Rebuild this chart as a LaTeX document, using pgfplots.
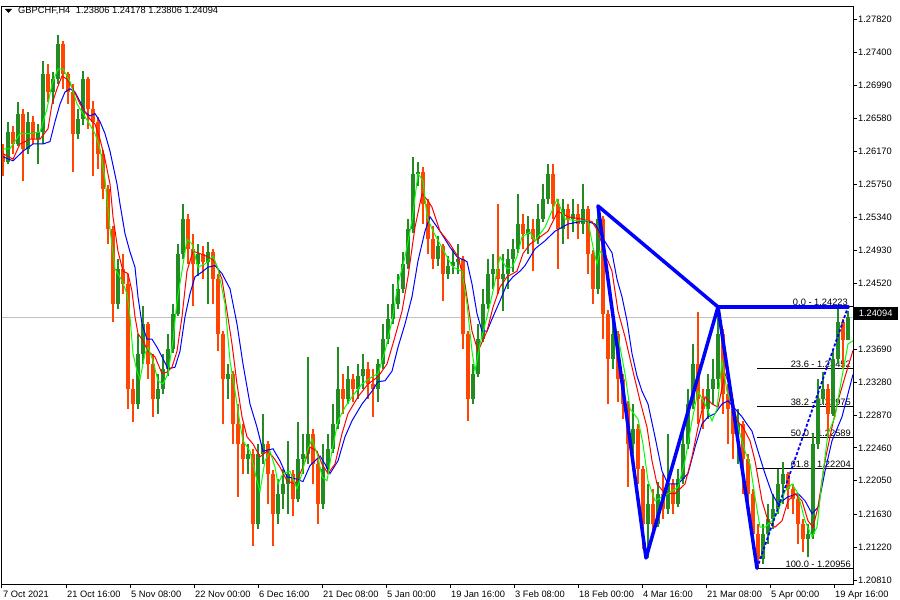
\documentclass[border=0pt]{standalone}
\usepackage{pgfplots}
\pgfplotsset{compat=1.18}
\usepackage{pgfplotstable}
\usepackage{fontspec}
\setmainfont{Liberation Sans}
\newcommand\lab{\fontsize{9.3}{11}\selectfont}

\definecolor{bull}{RGB}{34,139,34}
\definecolor{bear}{RGB}{255,69,0}
\definecolor{malime}{RGB}{0,255,0}
\definecolor{mared}{RGB}{255,0,0}
\definecolor{mablue}{RGB}{0,0,255}
\definecolor{bidline}{RGB}{192,192,192}

% GBPCHF H4 candles (x = position along the time axis)
\pgfplotstableread{
x o h l c
3 1.2614 1.2626 1.2586 1.2604
8 1.2604 1.2654 1.2601 1.2641
13 1.2641 1.2649 1.2614 1.2626
18 1.2626 1.2679 1.2624 1.2664
23 1.2664 1.2670 1.2580 1.2620
28 1.2620 1.2666 1.2614 1.2654
33 1.2654 1.2661 1.2626 1.2632
38 1.2632 1.2651 1.2601 1.2641
43 1.2641 1.2730 1.2626 1.2714
48 1.2714 1.2726 1.2679 1.2691
53 1.2691 1.2716 1.2676 1.2707
58 1.2707 1.2762 1.2701 1.2751
63 1.2751 1.2755 1.2695 1.2714
68 1.2714 1.2716 1.2676 1.2691
73 1.2691 1.2701 1.2591 1.2639
78 1.2639 1.2670 1.2632 1.2657
83 1.2657 1.2717 1.2650 1.2707
88 1.2707 1.2710 1.2645 1.2670
93 1.2670 1.2680 1.2586 1.2654
98 1.2654 1.2660 1.2595 1.2614
103 1.2614 1.2618 1.2557 1.2570
108 1.2570 1.2575 1.2501 1.2520
113 1.2520 1.2524 1.2404 1.2426
118 1.2426 1.2482 1.2420 1.2470
123 1.2470 1.2489 1.2439 1.2451
128 1.2451 1.2464 1.2295 1.2320
133 1.2320 1.2332 1.2279 1.2301
138 1.2301 1.2389 1.2295 1.2364
143 1.2364 1.2424 1.2351 1.2401
148 1.2401 1.2404 1.2332 1.2351
153 1.2351 1.2364 1.2285 1.2307
158 1.2307 1.2339 1.2289 1.2320
163 1.2320 1.2364 1.2314 1.2345
168 1.2345 1.2389 1.2336 1.2370
173 1.2370 1.2426 1.2365 1.2414
178 1.2414 1.2501 1.2411 1.2489
183 1.2489 1.2551 1.2482 1.2532
188 1.2532 1.2539 1.2476 1.2495
193 1.2495 1.2514 1.2424 1.2476
198 1.2476 1.2501 1.2461 1.2489
203 1.2489 1.2499 1.2457 1.2479
208 1.2479 1.2504 1.2426 1.2491
213 1.2491 1.2495 1.2426 1.2457
218 1.2457 1.2464 1.2367 1.2389
223 1.2389 1.2392 1.2276 1.2332
228 1.2332 1.2351 1.2307 1.2339
233 1.2339 1.2342 1.2251 1.2276
238 1.2276 1.2301 1.2185 1.2251
243 1.2251 1.2276 1.2214 1.2232
248 1.2232 1.2251 1.2214 1.2239
253 1.2239 1.2245 1.2124 1.2151
258 1.2151 1.2251 1.2145 1.2239
263 1.2239 1.2289 1.2226 1.2251
268 1.2251 1.2255 1.2176 1.2214
273 1.2214 1.2218 1.2124 1.2164
278 1.2164 1.2207 1.2151 1.2189
283 1.2189 1.2220 1.2170 1.2201
288 1.2201 1.2255 1.2164 1.2214
293 1.2214 1.2218 1.2161 1.2182
298 1.2182 1.2279 1.2178 1.2232
303 1.2232 1.2264 1.2214 1.2239
308 1.2239 1.2360 1.2226 1.2264
313 1.2264 1.2270 1.2201 1.2226
318 1.2226 1.2232 1.2151 1.2176
323 1.2176 1.2251 1.2170 1.2220
328 1.2220 1.2264 1.2214 1.2245
333 1.2245 1.2301 1.2240 1.2276
338 1.2276 1.2372 1.2270 1.2320
343 1.2320 1.2339 1.2289 1.2307
348 1.2307 1.2349 1.2301 1.2332
353 1.2332 1.2339 1.2304 1.2320
358 1.2320 1.2351 1.2307 1.2336
363 1.2336 1.2364 1.2320 1.2345
368 1.2345 1.2354 1.2307 1.2326
373 1.2326 1.2345 1.2285 1.2320
378 1.2320 1.2357 1.2304 1.2351
383 1.2351 1.2401 1.2345 1.2382
388 1.2382 1.2426 1.2376 1.2407
393 1.2407 1.2451 1.2401 1.2426
398 1.2426 1.2464 1.2420 1.2445
403 1.2445 1.2491 1.2440 1.2476
408 1.2476 1.2532 1.2470 1.2520
413 1.2520 1.2610 1.2515 1.2589
418 1.2589 1.2604 1.2574 1.2591
423 1.2591 1.2597 1.2526 1.2551
428 1.2551 1.2557 1.2489 1.2507
433 1.2507 1.2524 1.2470 1.2482
438 1.2482 1.2511 1.2474 1.2499
443 1.2499 1.2501 1.2430 1.2464
448 1.2464 1.2486 1.2457 1.2474
453 1.2474 1.2495 1.2464 1.2479
458 1.2479 1.2501 1.2464 1.2482
463 1.2482 1.2486 1.2370 1.2389
468 1.2389 1.2392 1.2280 1.2307
473 1.2307 1.2351 1.2301 1.2339
478 1.2339 1.2401 1.2335 1.2382
483 1.2382 1.2445 1.2378 1.2426
488 1.2426 1.2482 1.2420 1.2464
493 1.2464 1.2489 1.2445 1.2470
498 1.2470 1.2551 1.2439 1.2457
503 1.2457 1.2489 1.2417 1.2464
508 1.2464 1.2495 1.2445 1.2482
513 1.2482 1.2507 1.2466 1.2495
518 1.2495 1.2564 1.2490 1.2526
523 1.2526 1.2539 1.2495 1.2514
528 1.2514 1.2536 1.2489 1.2520
533 1.2520 1.2532 1.2467 1.2507
538 1.2507 1.2551 1.2501 1.2532
543 1.2532 1.2576 1.2528 1.2557
548 1.2557 1.2601 1.2551 1.2589
553 1.2589 1.2601 1.2532 1.2551
558 1.2551 1.2557 1.2470 1.2520
563 1.2520 1.2557 1.2501 1.2545
568 1.2545 1.2551 1.2507 1.2532
573 1.2532 1.2557 1.2516 1.2539
578 1.2539 1.2551 1.2507 1.2526
583 1.2526 1.2576 1.2514 1.2545
588 1.2545 1.2549 1.2464 1.2489
593 1.2489 1.2493 1.2426 1.2445
598 1.2445 1.25485 1.2439 1.2532
603 1.2532 1.2536 1.2382 1.2414
608 1.2414 1.2418 1.2301 1.2357
613 1.2357 1.2414 1.2345 1.2389
618 1.2389 1.2392 1.2304 1.2332
623 1.2332 1.2339 1.2282 1.2301
628 1.2301 1.2305 1.2197 1.2251
633 1.2251 1.2301 1.2239 1.2270
638 1.2270 1.2276 1.2201 1.2220
643 1.2220 1.2224 1.2120 1.2151
648 1.2151 1.2201 1.21085 1.2176
653 1.2176 1.2195 1.2139 1.2151
658 1.2151 1.2204 1.2147 1.2189
663 1.2189 1.2214 1.2157 1.2170
668 1.2170 1.2264 1.2164 1.2201
673 1.2201 1.2207 1.2164 1.2176
678 1.2176 1.2220 1.2172 1.2207
683 1.2207 1.2270 1.2201 1.2251
688 1.2251 1.2320 1.2245 1.2301
693 1.2301 1.2376 1.2295 1.2351
698 1.2351 1.2416 1.2276 1.2307
703 1.2307 1.2320 1.2270 1.2295
708 1.2295 1.2339 1.2282 1.2320
713 1.2320 1.2357 1.2301 1.2332
718 1.2332 1.24223 1.2320 1.2389
723 1.2389 1.2395 1.2289 1.2314
728 1.2314 1.2326 1.2251 1.2295
733 1.2295 1.2307 1.2232 1.2264
738 1.2264 1.2295 1.2226 1.2276
743 1.2276 1.2280 1.2189 1.2232
748 1.2232 1.2239 1.2164 1.2189
753 1.2189 1.2195 1.2120 1.2139
758 1.2139 1.2151 1.20956 1.2107
763 1.2107 1.2151 1.2101 1.2139
768 1.2139 1.2176 1.2126 1.2157
773 1.2157 1.2189 1.2145 1.2170
778 1.2170 1.2220 1.2164 1.2201
783 1.2201 1.2229 1.2176 1.2214
788 1.2214 1.2216 1.2170 1.2195
793 1.2195 1.2201 1.2164 1.2182
798 1.2182 1.2189 1.2126 1.2151
803 1.2151 1.2157 1.2116 1.2132
808 1.2132 1.2151 1.2110 1.2139
813 1.2139 1.2264 1.2132 1.2251
818 1.2251 1.2332 1.2245 1.2307
823 1.2307 1.2341 1.2301 1.2320
828 1.2320 1.2326 1.2260 1.2289
833 1.2289 1.2370 1.2286 1.2357
838 1.2357 1.24223 1.2351 1.2404
843 1.2404 1.2407 1.2345 1.23806
848 1.23806 1.24178 1.23806 1.24094
}\candles

\pgfplotsset{
  up/.style={restrict expr to domain={\thisrow{c}-\thisrow{o}}{0:1}},
  down/.style={restrict expr to domain={\thisrow{c}-\thisrow{o}}{-1:0}},
  candle/.style 2 args={draw=none, mark=none, forget plot,
    error bars/.cd, y dir=plus, y explicit, error mark=none,
    error bar style={draw=#1, line width=#2, line cap=butt}},
}

\begin{document}
\begin{tikzpicture}[x=1pt,y=1pt]
\useasboundingbox (0,0) rectangle (900,600);
\begin{axis}[
  at={(2,20)}, anchor=south west,
  scale only axis, width=851pt, height=577pt,
  xmin=2, xmax=853, ymin=1.2076, ymax=1.279725,
  axis line style={line width=1pt, black},
  xtick={2,66,...,834},
  xticklabels={7 Oct 2021, 21 Oct 16:00, 5 Nov 08:00, 22 Nov 00:00, 6 Dec 16:00,
    21 Dec 08:00, 5 Jan 00:00, 19 Jan 16:00, 3 Feb 08:00, 18 Feb 00:00,
    4 Mar 16:00, 21 Mar 08:00, 5 Apr 00:00, 19 Apr 16:00},
  ytick={1.27820,1.27400,1.26990,1.26580,1.26170,1.25750,1.25340,1.24930,1.24520,
    1.23690,1.23280,1.22870,1.22460,1.22050,1.21630,1.21220,1.20810},
  yticklabels={1.27820,1.27400,1.26990,1.26580,1.26170,1.25750,1.25340,1.24930,1.24520,
    1.23690,1.23280,1.22870,1.22460,1.22050,1.21630,1.21220,1.20810},
  xtick pos=left, ytick pos=right,
  tick align=outside, major tick length=4pt,
  tick style={black, line width=1pt},
  xticklabel style={anchor=north west, inner sep=0pt, xshift=1pt, yshift=-3pt, font=\lab},
  yticklabel style={anchor=west, inner sep=0pt, xshift=1pt, font=\lab},
]
% last bid line
\addplot[bidline, line width=1pt, forget plot] coordinates {(2,1.24094) (853,1.24094)};

% Fibonacci retracement levels
\addplot[black, line width=1pt, forget plot] coordinates {(757,1.24223) (853,1.24223)};
\addplot[black, line width=1pt, forget plot] coordinates {(757,1.23452) (853,1.23452)};
\addplot[black, line width=1pt, forget plot] coordinates {(757,1.22975) (853,1.22975)};
\addplot[black, line width=1pt, forget plot] coordinates {(757,1.22589) (853,1.22589)};
\addplot[black, line width=1pt, forget plot] coordinates {(757,1.22204) (853,1.22204)};
\addplot[black, line width=1pt, forget plot] coordinates {(757,1.20956) (853,1.20956)};
\node[anchor=south east, inner sep=1pt, font=\lab] at (axis cs:849,1.24223) {0.0 - 1.24223};
\node[anchor=south east, inner sep=1pt, font=\lab] at (axis cs:852,1.23452) {23.6 - 1.23452};
\node[anchor=south east, inner sep=1pt, font=\lab] at (axis cs:852,1.22975) {38.2 - 1.22975};
\node[anchor=south east, inner sep=1pt, font=\lab] at (axis cs:852,1.22589) {50.0 - 1.22589};
\node[anchor=south east, inner sep=1pt, font=\lab] at (axis cs:852,1.22204) {61.8 - 1.22204};
\node[anchor=south east, inner sep=1pt, font=\lab] at (axis cs:852,1.20956) {100.0 - 1.20956};

% candles: wicks then bodies
\addplot[up, candle={bull}{1.2pt}] table[x=x, y=l, y error plus expr={\thisrow{h}-\thisrow{l}}] {\candles};
\addplot[down, candle={bear}{1.2pt}] table[x=x, y=l, y error plus expr={\thisrow{h}-\thisrow{l}}] {\candles};
\addplot[up, candle={bull}{3.4pt}] table[x=x, y=o, y error plus expr={\thisrow{c}-\thisrow{o}}] {\candles};
\addplot[down, candle={bear}{3.4pt}] table[x=x, y=c, y error plus expr={\thisrow{o}-\thisrow{c}}] {\candles};

% moving averages
\addplot[mablue, line width=1pt] coordinates {
(3,1.2610) (13,1.2605) (23,1.2617) (33,1.2626) (43,1.2626) (50,1.2629) (55,1.2654) (60,1.2676)
(65,1.2691) (70,1.2695) (75,1.2691) (80,1.2679) (85,1.2666) (90,1.2661) (95,1.2664) (100,1.2654)
(105,1.2639) (110,1.2617) (117,1.2576) (120,1.2551) (125,1.2514) (130,1.2491) (135,1.2472)
(138,1.2435) (142,1.2401) (147,1.2382) (152,1.2382) (157,1.2372) (162,1.2360) (168,1.2345)
(175,1.2347) (180,1.2367) (185,1.2410) (190,1.2439) (195,1.2460) (202,1.2466) (208,1.2472)
(215,1.2474) (222,1.2464) (230,1.2445) (237,1.2401) (243,1.2351) (250,1.2301) (257,1.2272)
(263,1.2242) (273,1.2245) (280,1.2230) (287,1.2210) (297,1.2207) (303,1.2204) (310,1.2224)
(320,1.2236) (325,1.2226) (330,1.2214) (338,1.2230) (345,1.2260) (352,1.2280) (362,1.2301)
(372,1.2317) (378,1.2329) (385,1.2330) (392,1.2342) (398,1.2372) (405,1.2401) (412,1.2435)
(418,1.2480) (425,1.2517) (430,1.2535) (440,1.2517) (450,1.2497) (457,1.2485) (467,1.2479)
(472,1.2451) (477,1.2414) (482,1.2392) (487,1.2392) (493,1.2410) (500,1.2430) (507,1.2451)
(513,1.2460) (520,1.2467) (525,1.2474) (535,1.2495) (545,1.2505) (555,1.2517) (568,1.2526)
(585,1.2530) (595,1.2526) (605,1.2504) (612,1.2490) (617,1.2457) (622,1.2435) (627,1.2405)
(632,1.2364) (637,1.2336) (642,1.2317) (648,1.2301) (655,1.2260) (662,1.2217) (668,1.2201)
(678,1.2201) (688,1.2214) (695,1.2247) (702,1.2276) (708,1.2285) (715,1.2289) (722,1.2301)
(728,1.2305) (735,1.2295) (742,1.2285) (748,1.2274) (752,1.2267) (758,1.2242) (765,1.2214)
(772,1.2189) (778,1.2176) (788,1.2185) (798,1.2189) (805,1.2180) (812,1.2164) (818,1.2172)
(825,1.2217) (832,1.2255) (842,1.2285) (853,1.2338)
};
\addplot[mared, line width=1pt] coordinates {
(3,1.2614) (13,1.2607) (20,1.2626) (30,1.2632) (40,1.2632) (48,1.2645) (52,1.2676) (57,1.2695)
(62,1.2711) (67,1.2707) (73,1.2695) (80,1.2676) (85,1.2666) (90,1.2657) (95,1.2651) (100,1.2632)
(105,1.2607) (110,1.2576) (113,1.2535) (118,1.2492) (123,1.2467) (128,1.2464) (132,1.2442)
(135,1.2410) (138,1.2389) (143,1.2380) (148,1.2367) (155,1.2360) (162,1.2339) (167,1.2341)
(172,1.2347) (177,1.2367) (182,1.2410) (187,1.2467) (193,1.2492) (200,1.2489) (208,1.2485)
(215,1.2479) (222,1.2457) (227,1.2417) (232,1.2376) (237,1.2326) (242,1.2285) (247,1.2260)
(253,1.2251) (260,1.2235) (267,1.2242) (273,1.2235) (280,1.2222) (287,1.2205) (295,1.2201)
(303,1.2222) (310,1.2247) (317,1.2242) (322,1.2226) (328,1.2214) (335,1.2226) (342,1.2264)
(348,1.2289) (358,1.2310) (368,1.2326) (378,1.2335) (387,1.2351) (395,1.2385) (402,1.2417)
(408,1.2460) (415,1.2522) (422,1.2564) (428,1.2555) (432,1.2547) (440,1.2517) (450,1.2501)
(458,1.2485) (465,1.2451) (472,1.2392) (478,1.2367) (487,1.2392) (493,1.2422) (500,1.2447)
(507,1.2460) (517,1.2467) (523,1.2489) (530,1.2501) (535,1.2505) (548,1.2517) (558,1.2542)
(568,1.2535) (582,1.2532) (592,1.2529) (598,1.2517) (605,1.2489) (612,1.2467) (618,1.2417)
(625,1.2385) (632,1.2347) (640,1.2305) (647,1.2272) (652,1.2230) (657,1.2201) (665,1.2189)
(675,1.2189) (685,1.2201) (692,1.2235) (698,1.2272) (705,1.2310) (712,1.2301) (718,1.2297)
(725,1.2339) (730,1.2322) (737,1.2280) (743,1.2272) (750,1.2255) (755,1.2230) (762,1.2180)
(768,1.2155) (775,1.2147) (782,1.2155) (788,1.2180) (795,1.2189) (802,1.2180) (808,1.2155)
(813,1.2147) (818,1.2172) (825,1.2230) (832,1.2272) (838,1.2305) (845,1.2335) (853,1.2368)
};
\addplot[malime, line width=1pt] coordinates {
(3,1.2620) (10,1.2620) (20,1.2639) (30,1.2639) (40,1.2641) (47,1.2670) (52,1.2701) (58,1.2720)
(63,1.2720) (70,1.2704) (77,1.2676) (83,1.2664) (88,1.2654) (95,1.2639) (100,1.2620) (105,1.2582)
(110,1.2520) (115,1.2470) (122,1.2455) (127,1.2439) (130,1.2410) (133,1.2364) (137,1.2342)
(140,1.2332) (145,1.2364) (148,1.2372) (153,1.2355) (158,1.2330) (163,1.2326) (168,1.2339)
(173,1.2380) (177,1.2430) (182,1.2467) (187,1.2507) (192,1.2501) (198,1.2472) (205,1.2476)
(213,1.2486) (218,1.2470) (225,1.2426) (230,1.2355) (235,1.2317) (240,1.2276) (243,1.2255)
(250,1.2242) (257,1.2205) (260,1.2192) (265,1.2230) (270,1.2242) (275,1.2222) (278,1.2201)
(283,1.2214) (290,1.2217) (297,1.2195) (302,1.2214) (307,1.2242) (312,1.2257) (318,1.2235)
(322,1.2210) (327,1.2205) (332,1.2242) (338,1.2280) (345,1.2297) (352,1.2310) (362,1.2326)
(372,1.2335) (378,1.2339) (385,1.2367) (392,1.2405) (398,1.2451) (405,1.2485) (412,1.2530)
(418,1.2589) (423,1.2580) (427,1.2535) (433,1.2517) (440,1.2501) (447,1.2485) (453,1.2472)
(462,1.2467) (467,1.2426) (472,1.2367) (475,1.2342) (480,1.2376) (487,1.2410) (493,1.2442)
(500,1.2485) (507,1.2470) (512,1.2472) (517,1.2485) (522,1.2510) (530,1.2516) (535,1.2505)
(545,1.2522) (557,1.2557) (565,1.2532) (578,1.2530) (588,1.2530) (593,1.2497) (597,1.2476)
(600,1.2492) (605,1.2485) (610,1.2435) (615,1.2401) (620,1.2372) (625,1.2339) (630,1.2295)
(638,1.2282) (643,1.2251) (648,1.2205) (655,1.2180) (662,1.2185) (668,1.2189) (678,1.2197)
(685,1.2230) (692,1.2280) (698,1.2317) (705,1.2301) (712,1.2280) (717,1.2295) (722,1.2355)
(727,1.2317) (732,1.2301) (738,1.2272) (745,1.2242) (750,1.2226) (755,1.2185) (760,1.2147)
(765,1.2147) (772,1.2155) (778,1.2167) (785,1.2192) (792,1.2201) (798,1.2189) (805,1.2155)
(812,1.2135) (817,1.2147) (822,1.2205) (828,1.2264) (835,1.2285) (842,1.2335) (848,1.2376)
(853,1.2380)
};

% drawn pattern lines
\addplot[mablue, line width=3.5pt, line join=round, line cap=round] coordinates {(598,1.25485) (718,1.24223)};
\addplot[mablue, line width=3.5pt, line join=round, line cap=round] coordinates {(598,1.25485) (646,1.21085) (718,1.24223) (757,1.20956)};
\addplot[mablue, line width=3.5pt, line cap=round] coordinates {(718,1.24223) (848,1.24223)};
\addplot[mablue, line width=1.8pt, dash pattern=on 3pt off 2pt] coordinates {(757,1.20956) (848,1.24223)};
\end{axis}
% header and current price tag
\fill (5,591) -- (12,591) -- (8.5,587) -- cycle;
\node[anchor=base west, inner sep=0pt, font=\lab] at (18,586) {GBPCHF,H4\hspace{0.6em}1.23806 1.24178 1.23806 1.24094};
\node[fill=black, text=white, anchor=west, inner sep=0pt, minimum width=45pt, minimum height=13pt, font=\lab] at (853,286.4) {1.24094};
\end{tikzpicture}
\end{document}
